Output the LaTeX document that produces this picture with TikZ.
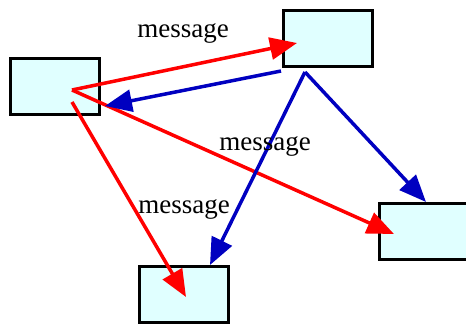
\documentclass[tikz,border=0pt]{standalone}
\usepackage{fontspec}
\setmainfont{Liberation Serif}
\usetikzlibrary{arrows.meta}
\definecolor{boxcyan}{HTML}{E0FFFF}
\definecolor{msgred}{HTML}{FF0000}
\definecolor{msgblue}{HTML}{0000C0}
\tikzset{
    >={Triangle[length=27pt, width=22pt]}, % big filled heads
    box/.style={draw, line width=3pt, fill=boxcyan, minimum width=89pt, minimum height=56pt, inner sep=0pt},
    redmsg/.style={->, line width=3.5pt, msgred},
    bluemsg/.style={->, line width=3.5pt, msgblue},
    label/.style={font=\fontsize{27}{32}\selectfont},
}
\begin{document}
\begin{tikzpicture}[x=1pt, y=-1pt]
    \useasboundingbox (0,0) rectangle (466,324);
    \node[box] (left) at (55,86.5) {};
    \node[box] (top) at (328,38.5) {};
    \node[box] (bottom) at (184,294.5) {};
    \node[box] (right) at (424,231.5) {};
    % ends of the connectors
    \coordinate (left-out) at (72,90);
    \coordinate (left-out2) at (72,102);
    \coordinate (left-in) at (105,106);
    \coordinate (top-in) at (297,43);
    \coordinate (top-out) at (305,72);
    \coordinate (top-out2) at (281,71);
    \coordinate (bottom-in) at (186,297);
    \coordinate (bottom-in2) at (210,265);
    \coordinate (right-in) at (394,234);
    \coordinate (right-in2) at (426,202);
    \draw[redmsg] (left-out) -- (top-in);
    \draw[redmsg] (left-out) -- (right-in);
    \draw[redmsg] (left-out2) -- (bottom-in);
    \draw[bluemsg] (top-out2) -- (left-in);
    \draw[bluemsg] (top-out) -- (bottom-in2);
    \draw[bluemsg] (top-out) -- (right-in2);
    \node[label] (msg1) at (183,33) {message};
    \node[label] (msg2) at (265,146) {message};
    \node[label] (msg3) at (184,209) {message};
\end{tikzpicture}
\end{document}
